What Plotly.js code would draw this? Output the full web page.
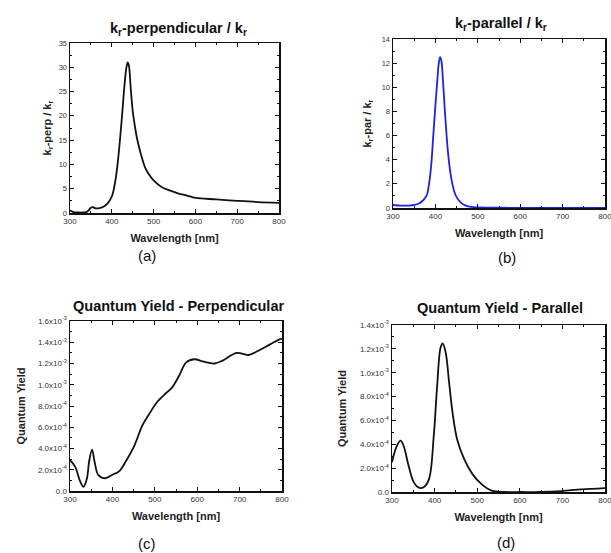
<!DOCTYPE html>
<html><head><meta charset="utf-8">
<script src="https://cdn.plot.ly/plotly-3.0.1.min.js"></script>
<style>html,body{margin:0;padding:0;background:#fff}</style>
</head><body><div id="chart" style="width:611px;height:553px"></div>
<script>
// (a) kr-perpendicular / kr
const wlPerpRate = [300,305,310,320,330,340,345,350,355,360,370,380,390,400,405,410,415,420,425,430,435,438,441,445,450,455,460,470,480,490,500,520,540,560,580,600,650,700,750,800];
const krPerp     = [0.5,0.3,0.15,0.1,0.1,0.2,0.6,1.1,1.2,1.0,1.0,1.3,2.0,3.4,5.0,7.5,11,15.5,20.5,26,30,31,30.3,26,21,18,15.5,12,9.3,7.8,6.7,5.3,4.6,4.0,3.6,3.1,2.8,2.5,2.25,2.1];

// (b) kr-parallel / kr
const wlParRate = [300,320,340,350,360,370,375,380,385,390,395,400,405,408,411,414,418,422,426,430,435,440,445,450,460,470,480,490,500,550,600,650,700,750,800];
const krPar     = [0.25,0.2,0.2,0.25,0.35,0.6,0.8,1.1,2.0,3.5,6.0,8.5,10.8,12.0,12.5,12.2,10.5,8.2,6.2,4.5,3.0,2.0,1.3,0.9,0.45,0.22,0.12,0.07,0.04,0.02,0.01,0.01,0.01,0.01,0.01];

// (c) Quantum Yield - Perpendicular
const wlQyPerp = [300,312,324,332,340,345,352,358,367,383,399,417,431,451,471,486,506,526,540,558,574,594,613,641,661,693,721,744,772,796,800];
const qyPerp   = [2.9e-4,2.3e-4,0.9e-4,0.4e-4,1.2e-4,2.75e-4,3.9e-4,2.75e-4,1.5e-4,1.2e-4,1.5e-4,1.9e-4,2.75e-4,4.2e-4,6.2e-4,7.2e-4,8.4e-4,9.2e-4,9.7e-4,10.9e-4,12.1e-4,12.4e-4,12.2e-4,12.0e-4,12.3e-4,13.0e-4,12.8e-4,13.2e-4,13.8e-4,14.3e-4,14.3e-4];

// (d) Quantum Yield - Parallel
const wlQyPar = [300,310,320,327,339,351,363,375,387,398,406,414,419,426,434,442,453,469,489,509,532,564,603,650,698,745,800];
const qyPar   = [2.5e-4,3.75e-4,4.3e-4,3.9e-4,2.2e-4,0.83e-4,0.36e-4,0.42e-4,1.1e-4,4.7e-4,8.9e-4,12.1e-4,12.45e-4,11.7e-4,9.2e-4,6.7e-4,4.4e-4,2.8e-4,1.5e-4,0.7e-4,0.14e-4,0.0,0.0,0.0,0.08e-4,0.22e-4,0.33e-4];

// tick labels
const xTicks = [300,400,500,600,700,800];
const yTicksA = [0,5,10,15,20,25,30,35];
const yTicksB = [0,2,4,6,8,10,12,14];
const yTicksC = [0,2e-4,4e-4,6e-4,8e-4,1.0e-3,1.2e-3,1.4e-3,1.6e-3];
const yTextC  = ['0.0','2.0x10<sup>-4</sup>','4.0x10<sup>-4</sup>','6.0x10<sup>-4</sup>','8.0x10<sup>-4</sup>','1.0x10<sup>-3</sup>','1.2x10<sup>-3</sup>','1.4x10<sup>-3</sup>','1.6x10<sup>-3</sup>'];
const yTicksD = [0,2e-4,4e-4,6e-4,8e-4,1.0e-3,1.2e-3,1.4e-3];
const yTextD  = ['0.0','2.0x10<sup>-4</sup>','4.0x10<sup>-4</sup>','6.0x10<sup>-4</sup>','8.0x10<sup>-4</sup>','1.0x10<sup>-3</sup>','1.2x10<sup>-3</sup>','1.4x10<sup>-3</sup>'];

const FONT = 'Liberation Sans, Arial, sans-serif';
const W = 611, H = 553;
const px = v => v / W;
const py = v => 1 - v / H;

function xaxis(l, r, anchor) {
  return {
    domain: [px(l), px(r)], anchor: anchor, range: [300, 800],
    tickvals: xTicks, ticktext: xTicks.map(String), ticklabeloverflow: 'allow',
    ticks: 'inside', ticklen: 4, tickwidth: 1, tickcolor: '#111',
    minor: {ticks: 'inside', ticklen: 2, dtick: 50, tickcolor: '#111'},
    showline: true, linecolor: '#111', linewidth: 1.5, mirror: 'allticks',
    showgrid: false, zeroline: false,
    tickfont: {family: FONT, size: 8, color: '#333'},
    title: {text: '<b>Wavelength [nm]</b>', font: {family: FONT, size: 11, color: '#222'}, standoff: 9}
  };
}
function yaxis(b, t, anchor, range, vals, texts, minorStep, title, standoff, tsize) {
  return {
    domain: [py(b), py(t)], anchor: anchor, range: range,
    tickvals: vals, ticktext: texts, ticklabeloverflow: 'allow',
    ticks: 'inside', ticklen: 4, tickwidth: 1, tickcolor: '#111',
    minor: {ticks: 'inside', ticklen: 2, dtick: minorStep, tickcolor: '#111'},
    showline: true, linecolor: '#111', linewidth: 1.5, mirror: 'allticks',
    showgrid: false, zeroline: false,
    tickfont: {family: FONT, size: tsize, color: '#333'},
    title: {text: title, font: {family: FONT, size: 11, color: '#222'}, standoff: standoff}
  };
}

const data = [
  {x: wlPerpRate, y: krPerp, xaxis: 'x', yaxis: 'y', mode: 'lines', line: {color: '#111', width: 1.8, shape: 'spline'}},
  {x: wlParRate, y: krPar, xaxis: 'x2', yaxis: 'y2', mode: 'lines', line: {color: '#2020ee', width: 1.8, shape: 'spline'}},
  {x: wlQyPerp, y: qyPerp, xaxis: 'x3', yaxis: 'y3', mode: 'lines', line: {color: '#111', width: 1.8, shape: 'spline'}},
  {x: wlQyPar, y: qyPar, xaxis: 'x4', yaxis: 'y4', mode: 'lines', line: {color: '#111', width: 1.8, shape: 'spline'}}
];

function ann(text, x, y, size, bold) {
  return {text: bold ? '<b>' + text + '</b>' : text, x: px(x), y: py(y), xref: 'paper', yref: 'paper',
    xanchor: 'center', yanchor: 'middle', showarrow: false,
    font: {family: FONT, size: size, color: '#111'}};
}

const layout = {
  width: W, height: H, margin: {l: 0, r: 0, t: 0, b: 0},
  paper_bgcolor: '#fff', plot_bgcolor: '#fff', showlegend: false,
  xaxis: xaxis(70, 279, 'y'),
  yaxis: yaxis(213, 43, 'x', [0, 35], yTicksA, yTicksA.map(String), 2.5, '<b>k<sub>r</sub>-perp / k<sub>r</sub></b>', 5, 7.5),
  xaxis2: xaxis(393, 605, 'y2'),
  yaxis2: yaxis(208, 39, 'x2', [0, 14], yTicksB, yTicksB.map(String), 1, '<b>k<sub>r</sub>-par / k<sub>r</sub></b>', 8, 7.5),
  xaxis3: xaxis(70, 282, 'y3'),
  yaxis3: yaxis(491, 321, 'x3', [0, 1.6e-3], yTicksC, yTextC, 1e-4, '<b>Quantum Yield</b>', 10, 8),
  xaxis4: xaxis(392, 605, 'y4'),
  yaxis4: yaxis(492, 325, 'x4', [0, 1.4e-3], yTicksD, yTextD, 1e-4, '<b>Quantum Yield</b>', 11, 8),
  annotations: [
    ann('k<sub>r</sub>-perpendicular / k<sub>r</sub>', 178, 29, 14.5, true),
    ann('k<sub>r</sub>-parallel / k<sub>r</sub>', 501, 24, 14.5, true),
    ann('Quantum Yield - Perpendicular', 178, 306, 14.5, true),
    ann('Quantum Yield - Parallel', 500, 308, 14.5, true),
    ann('(a)', 147, 255, 15, false),
    ann('(b)', 507, 257, 15, false),
    ann('(c)', 147, 543, 15, false),
    ann('(d)', 506, 542, 15, false)
  ]
};

Plotly.newPlot('chart', data, layout, {staticPlot: true, displayModeBar: false});
</script></body></html>
